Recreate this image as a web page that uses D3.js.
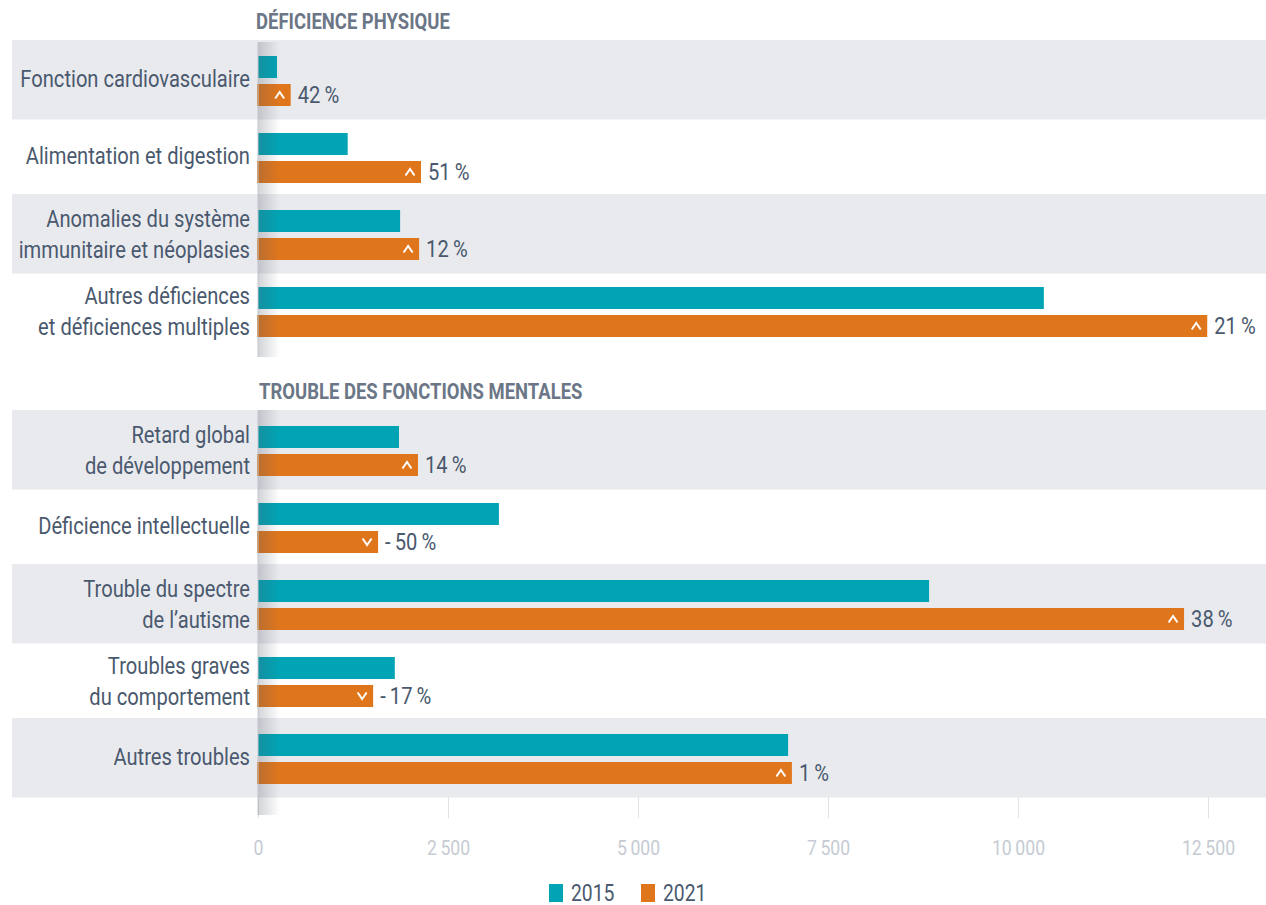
<!DOCTYPE html>
<html>
<head>
<meta charset="utf-8">
<script src="https://cdn.jsdelivr.net/npm/d3@7"></script>
<style>
  body { margin: 0; background: #fff; }
  svg text { font-family: Roboto, "Noto Sans", sans-serif; }
</style>
</head>
<body>
<svg id="chart"></svg>
<script>
// Data
const sections = ["DÉFICIENCE PHYSIQUE", "TROUBLE DES FONCTIONS MENTALES"];
const categories = [
  "Fonction cardiovasculaire",
  "Alimentation et digestion",
  "Anomalies du système\nimmunitaire et néoplasies",
  "Autres déficiences\net déficiences multiples",
  "Retard global\nde développement",
  "Déficience intellectuelle",
  "Trouble du spectre\nde l’autisme",
  "Troubles graves\ndu comportement",
  "Autres troubles"
];
const categorySection = [0, 0, 0, 0, 1, 1, 1, 1, 1];
const values2015 = [250, 1180, 1870, 10340, 1855, 3170, 8830, 1800, 6975];
const values2021 = [430, 2145, 2120, 12490, 2105, 1580, 12185, 1515, 7025];
const changes = [42, 51, 12, 21, 14, -50, 38, -17, 1];
const years = ["2015", "2021"];
const xTicks = [0, 2500, 5000, 7500, 10000, 12500];

const colors = { "2015": "#00a4b5", "2021": "#e0761c" };
const textColor = "#4a596e";
const SX = 0.84; // horizontal squeeze to mimic the condensed face

const W = 1266, H = 905;
const svg = d3.select("#chart").attr("width", W).attr("height", H);

// Scales
const x = d3.scaleLinear().domain([0, 12500]).range([258, 1208]);
const sectionTop = [42.5, 412.5];
const rowH = 77;
const yScales = sections.map((s, si) => {
  const cats = categories.filter((c, i) => categorySection[i] === si);
  return d3.scaleBand().domain(cats).range([sectionTop[si], sectionTop[si] + cats.length * rowH]);
});
const rows = categories.map((c, i) => {
  const si = categorySection[i];
  const y = yScales[si];
  const idx = y.domain().indexOf(c);
  return { c, i, si, idx, top: y(c), bw: y.bandwidth(), v15: values2015[i], v21: values2021[i], ch: changes[i] };
});

// Background bands
svg.append("g").selectAll("rect")
  .data(rows.filter(d => d.idx % 2 === 0))
  .join("rect")
  .attr("x", 12)
  .attr("y", d => d.top - 2.5)
  .attr("width", W - 12)
  .attr("height", d => d.bw + 2.5)
  .attr("fill", "#e9eaee");

// Section titles
svg.append("g").selectAll("text")
  .data(sections)
  .join("text")
  .attr("transform", (d, i) => `translate(${i === 0 ? 256 : 259},${sectionTop[i] - 13.5}) scale(${SX},1)`)
  .attr("fill", "#6b7686")
  .style("font-size", "22px")
  .style("font-weight", "bold")
  .text(d => d);

// X axis ticks
const fmt = d3.formatLocale({ decimal: ",", thousands: "\u2009", grouping: [3], currency: ["", "€"] }).format(",d");
const axis = svg.append("g")
  .attr("transform", "translate(0,797)")
  .call(d3.axisBottom(x).tickValues(xTicks).tickSize(21).tickPadding(22).tickFormat(fmt));
axis.select(".domain").remove();
axis.selectAll(".tick line").attr("stroke", "#dfe2e7");
axis.selectAll(".tick text")
  .attr("fill", "#c6cbd3")
  .attr("transform", `scale(${SX},1)`)
  .style("font-family", "Roboto, sans-serif")
  .style("font-size", "21px");

const barH = 22;
// 2015 bars
svg.append("g").selectAll("rect")
  .data(rows)
  .join("rect")
  .attr("x", x(0))
  .attr("y", d => d.top + d.bw / 2 - 25)
  .attr("width", d => x(d.v15) - x(0))
  .attr("height", barH)
  .attr("fill", colors["2015"]);

// 2021 bars
svg.append("g").selectAll("rect")
  .data(rows)
  .join("rect")
  .attr("x", x(0) - 1)
  .attr("y", d => d.top + d.bw / 2 + 3)
  .attr("width", d => x(d.v21) - x(0) + 1)
  .attr("height", barH)
  .attr("fill", colors["2021"]);

// Chevrons inside 2021 bars
svg.append("g").selectAll("path")
  .data(rows)
  .join("path")
  .attr("transform", d => `translate(${x(d.v21) - 11},${d.top + d.bw / 2 + 14})`)
  .attr("d", d => d.ch >= 0 ? "M-4.5,3.5L0,-3L4.5,3.5" : "M-4.5,-3.5L0,3L4.5,-3.5")
  .attr("fill", "none")
  .attr("stroke", "#fff")
  .attr("stroke-width", 2);

// Change labels
svg.append("g").selectAll("text")
  .data(rows)
  .join("text")
  .attr("transform", d => `translate(${x(d.v21) + 7},${d.top + d.bw / 2 + 22}) scale(${SX},1)`)
  .attr("fill", textColor)
  .style("font-size", "24px")
  .text(d => (d.ch < 0 ? "-\u2009" + Math.abs(d.ch) : d.ch) + "\u2009%");

// Axis shadow
const defs = svg.append("defs");
const grad = defs.append("linearGradient").attr("id", "shadow");
grad.append("stop").attr("offset", "0%").attr("stop-color", "#505864").attr("stop-opacity", 0.26);
grad.append("stop").attr("offset", "100%").attr("stop-color", "#505864").attr("stop-opacity", 0);
const axisSpans = [[42, 357], [410, 815]];
svg.append("g").selectAll("rect")
  .data(axisSpans)
  .join("rect")
  .attr("x", 258)
  .attr("y", d => d[0])
  .attr("width", 22)
  .attr("height", d => d[1] - d[0])
  .attr("fill", "url(#shadow)");
svg.append("g").selectAll("line")
  .data(axisSpans)
  .join("line")
  .attr("x1", 258).attr("x2", 258)
  .attr("y1", d => d[0]).attr("y2", d => d[1])
  .attr("stroke", "#c3c7cd");

// Category labels
const labels = svg.append("g").selectAll("text")
  .data(rows)
  .join("text")
  .attr("transform", d => `translate(250,${d.top + d.bw / 2}) scale(${SX},1)`)
  .attr("text-anchor", "end")
  .attr("fill", textColor)
  .style("font-size", "24px");
labels.each(function (d) {
  const lines = d.c.split("\n");
  d3.select(this).selectAll("tspan")
    .data(lines)
    .join("tspan")
    .attr("x", 0)
    .attr("y", (l, j) => lines.length === 1 ? 6 : -8 + j * 31)
    .text(l => l);
});

// Legend
const legend = svg.append("g").selectAll("g")
  .data(years)
  .join("g")
  .attr("transform", (d, i) => `translate(${549 + i * 92},884)`);
legend.append("rect").attr("width", 14).attr("height", 18).attr("fill", d => colors[d]);
legend.append("text")
  .attr("transform", `translate(22,17) scale(${SX},1)`)
  .attr("fill", textColor)
  .style("font-size", "23px")
  .text(d => d);
</script>
</body>
</html>
